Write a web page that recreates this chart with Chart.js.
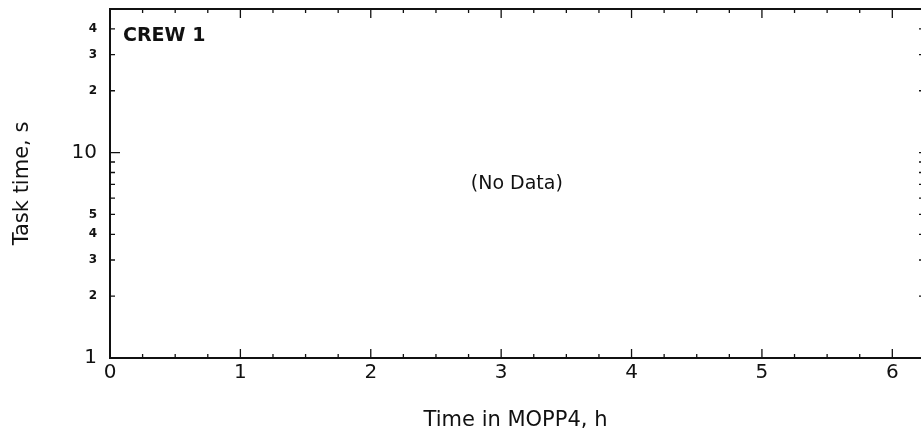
<!DOCTYPE html>
<html>
<head>
<meta charset="utf-8">
<script src="https://cdn.jsdelivr.net/npm/chart.js@4"></script>
<style>
  html, body { margin: 0; padding: 0; background: #fff; }
  #wrap { width: 921px; height: 439px; position: relative; }
</style>
</head>
<body>
<div id="wrap"><canvas id="c"></canvas></div>
<script>
// ---- axis data
const xTicks = [0, 1, 2, 3, 4, 5, 6];
const xMinor = [0.25, 0.5, 0.75, 1.25, 1.5, 1.75, 2.25, 2.5, 2.75, 3.25, 3.5, 3.75,
  4.25, 4.5, 4.75, 5.25, 5.5, 5.75, 6];
const yTicks = [1, 2, 3, 4, 5, 10, 20, 30, 40];
const yTickLabels = ["1", "2", "3", "4", "5", "10", "2", "3", "4"];
const yMinor = [2, 3, 4, 5, 6, 7, 8, 9, 20, 30, 40];
const yMajor = [1, 10];
const series = []; // no data for this crew

const FONT = "'DejaVu Sans', Arial, sans-serif";
const INK = "#111";

const frame = {
  id: "frame",
  afterDraw(chart) {
    const { ctx, chartArea: a, scales: { x, y } } = chart;
    const seg = (x1, y1, x2, y2) => { ctx.moveTo(x1, y1); ctx.lineTo(x2, y2); };
    ctx.save();
    ctx.strokeStyle = INK;
    ctx.lineWidth = 2;
    ctx.beginPath();
    seg(a.left, a.top, a.right, a.top);
    seg(a.left, a.top - 1, a.left, a.bottom + 1);
    seg(a.left, a.bottom, a.right, a.bottom);
    ctx.stroke();
    ctx.lineWidth = 1.3;
    ctx.beginPath();
    xTicks.concat(xMinor).forEach(v => {
      const px = x.getPixelForValue(v);
      const len = xTicks.includes(v) ? 9 : 4;
      seg(px, a.bottom, px, a.bottom - len);
      seg(px, a.top, px, a.top + len);
    });
    yMajor.concat(yMinor).forEach(v => {
      const py = y.getPixelForValue(v);
      const len = yMajor.includes(v) ? 10 : 5;
      seg(a.left, py, a.left + len, py);
      seg(a.right + 3, py, a.right - 2, py);
    });
    ctx.stroke();
    ctx.fillStyle = INK;
    ctx.textBaseline = "middle";
    ctx.font = "bold 19px " + FONT;
    ctx.textAlign = "left";
    ctx.fillText("CREW 1", a.left + 13, y.getPixelForValue(37));
    ctx.font = "19px " + FONT;
    ctx.textAlign = "center";
    ctx.fillText("(No Data)", x.getPixelForValue(3.12), y.getPixelForValue(7.0));
    ctx.restore();
  }
};

new Chart(document.getElementById("c"), {
  type: "scatter",
  data: { datasets: [{ data: series, pointRadius: 3, backgroundColor: INK }] },
  plugins: [frame],
  options: {
    responsive: true,
    maintainAspectRatio: false,
    animation: false,
    layout: { padding: { top: 9, right: 0, left: 0, bottom: 0 } },
    plugins: { legend: { display: false }, tooltip: { enabled: false } },
    scales: {
      x: {
        type: "linear", min: 0, max: 6.22,
        grid: { display: false, drawTicks: false },
        border: { display: false },
        afterBuildTicks: s => { s.ticks = xTicks.map(v => ({ value: v })); },
        afterFit: s => { s.height = 81; s.paddingLeft = 0; s.paddingRight = 0; },
        ticks: { color: INK, padding: 3, maxRotation: 0, autoSkip: false,
          font: { family: FONT, size: 20 } },
        title: { display: true, text: "Time in MOPP4, h", color: INK,
          font: { family: FONT, size: 21 }, padding: { top: 0, bottom: 6 } }
      },
      y: {
        type: "logarithmic", min: 1, max: 50,
        grid: { display: false, drawTicks: false },
        border: { display: false },
        afterBuildTicks: s => { s.ticks = yTicks.map(v => ({ value: v })); },
        afterFit: s => { s.width = 110; s.paddingTop = 0; s.paddingBottom = 0; },
        ticks: {
          color: INK, padding: 13, autoSkip: false,
          callback: (v) => yTickLabels[yTicks.indexOf(v)] ?? "",
          font: c => (c.tick && (c.tick.value === 1 || c.tick.value === 10))
            ? { family: FONT, size: 20 } : { family: FONT, size: 12, weight: "bold" }
        },
        title: { display: true, text: "Task time, s", color: INK,
          font: { family: FONT, size: 21 }, padding: { top: 10, bottom: 0 } }
      }
    }
  }
});
</script>
</body>
</html>
